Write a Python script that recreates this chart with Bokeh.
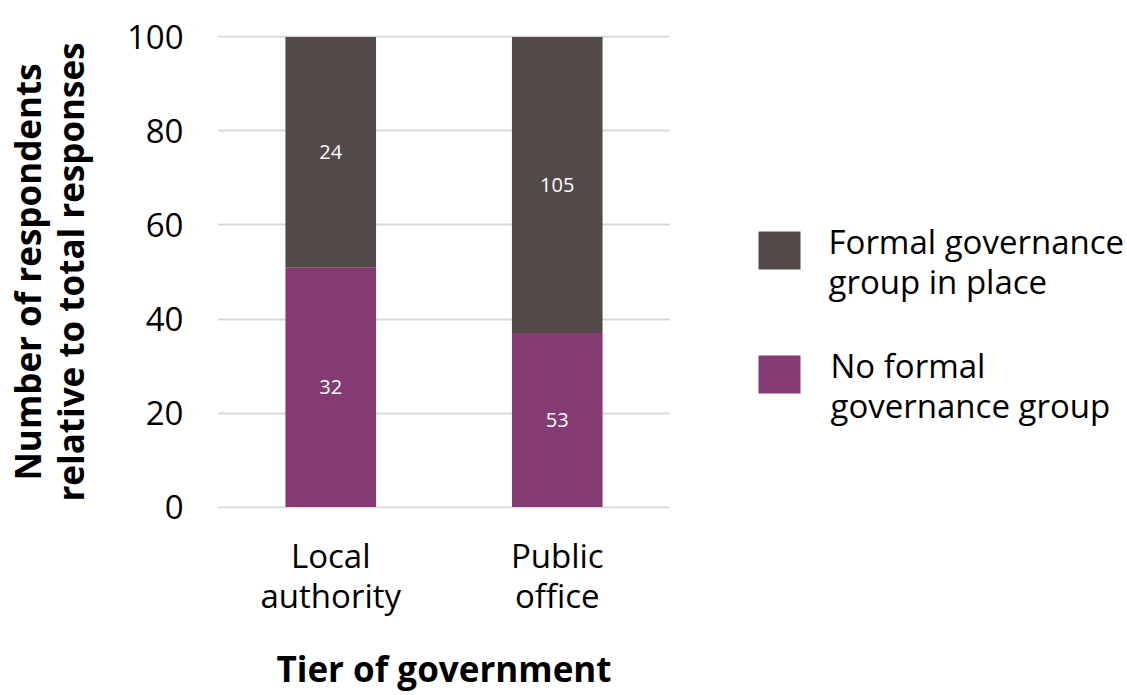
from bokeh.plotting import figure
from bokeh.layouts import row
from bokeh.models import (ColumnDataSource, Range1d, LabelSet, FactorRange, FixedTicker)
from bokeh.core.properties import value
from bokeh.embed import file_html
from bokeh.resources import INLINE

# ---- data ----
categories = ["Local\nauthority", "Public\noffice"]
no_formal_pct = [51, 37]      # bar height, % of responses
formal_pct = [49, 63]
no_formal_n = [32, 53]        # counts shown in bars
formal_n = [24, 105]
y_ticks = [0, 20, 40, 60, 80, 100]
series_names = ["Formal governance\ngroup in place", "No formal\ngovernance group"]

DARK = "#514a49"
PURPLE = "#843a72"
series_colors = [DARK, PURPLE]
FONT = "Open Sans"

W, H = 1127, 695
TOP, BOTTOM = 35, 187        # borders around the plot frame

src = ColumnDataSource(dict(
    cat=categories,
    no_formal=no_formal_pct,
    formal=formal_pct,
    no_mid=[v / 2 for v in no_formal_pct],
    formal_mid=[a + b / 2 for a, b in zip(no_formal_pct, formal_pct)],
    no_txt=[str(v) for v in no_formal_n],
    formal_txt=[str(v) for v in formal_n],
))

p = figure(x_range=FactorRange(factors=categories), y_range=Range1d(-0.3, 100.3),
           width=670, height=H, output_backend="svg", toolbar_location=None,
           min_border_left=213, min_border_right=0, min_border_top=TOP,
           min_border_bottom=BOTTOM, outline_line_color=None)

rs = p.vbar_stack(["no_formal", "formal"], x="cat", width=0.4, source=src,
                  color=[PURPLE, DARK], line_color=None)

for ycol, tcol in (("no_mid", "no_txt"), ("formal_mid", "formal_txt")):
    p.add_layout(LabelSet(x="cat", y=ycol, text=tcol, source=src,
                          text_color="white", text_font=value("Open Sans"),
                          text_font_size="20px", text_align="center",
                          text_baseline="middle"))

# axes
p.yaxis.ticker = FixedTicker(ticks=y_ticks)
p.yaxis.axis_line_color = None
p.yaxis.major_tick_line_color = None
p.yaxis.minor_tick_line_color = None
p.yaxis.major_label_text_font = FONT
p.yaxis.major_label_text_font_size = "33px"
p.yaxis.major_label_text_color = "black"
p.yaxis.major_label_standoff = 28
p.yaxis.axis_label = "Number of respondents\nrelative to total responses"
p.yaxis.axis_label_text_font = FONT
p.yaxis.axis_label_text_font_style = "bold"
p.yaxis.axis_label_text_font_size = "35px"
p.yaxis.axis_label_text_line_height = 0.92
p.yaxis.axis_label_text_color = "black"
p.yaxis.axis_label_standoff = 30

p.xaxis.axis_line_color = None
p.xaxis.major_tick_line_color = None
p.xaxis.minor_tick_line_color = None
p.xaxis.major_label_text_font = FONT
p.xaxis.major_label_text_font_size = "33px"
p.xaxis.major_label_text_line_height = 0.89
p.xaxis.major_label_text_color = "black"
p.xaxis.major_label_standoff = 18
p.xaxis.axis_label = "Tier of government"
p.xaxis.axis_label_text_font = FONT
p.xaxis.axis_label_text_font_style = "bold"
p.xaxis.axis_label_text_font_size = "35px"
p.xaxis.axis_label_text_color = "black"
p.xaxis.axis_label_standoff = 24

p.xgrid.grid_line_color = None
p.ygrid.grid_line_color = "#d9d9d9"
p.ygrid.grid_line_width = 2

# legend panel on the right; its frame is aligned with the chart frame,
# so use pixel-like coordinates (y downwards) over that frame
LW = W - 670
pl = figure(width=LW, height=H, x_range=Range1d(0, LW),
            y_range=Range1d(H - BOTTOM, TOP),
            x_axis_type=None, y_axis_type=None, output_backend="svg",
            toolbar_location=None, outline_line_color=None, min_border=0,
            min_border_top=TOP, min_border_bottom=BOTTOM)
SW_X, SW_W, SW_H = 109, 42, 38      # swatch centre x, size
ROW0, ROW_STEP, TXT_DY = 250, 124, 11
TXT_X = 158
rows_y = [ROW0 + i * ROW_STEP for i in range(len(series_names))]
pl.rect(x=[SW_X] * len(rows_y), y=rows_y, width=SW_W, height=SW_H,
        fill_color=series_colors, line_color=None)
pl.text(x=[TXT_X + 2 * i for i in range(len(rows_y))], y=[v + TXT_DY for v in rows_y],
        text=series_names, text_font=value(FONT), text_font_size="33px",
        text_color="black", text_baseline="middle", text_align="left",
        text_line_height=0.89)

open("out.html", "w").write(file_html(row(p, pl), INLINE))
